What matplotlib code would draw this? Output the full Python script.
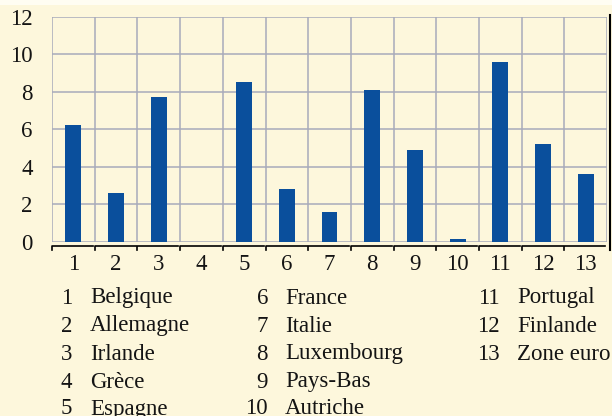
import numpy as np
import matplotlib.pyplot as plt
from matplotlib.lines import Line2D
from matplotlib.patches import Rectangle

plt.rcParams['font.family'] = ['Liberation Serif', 'DejaVu Serif']

codes = list(range(1, 14))
values = [6.2, 2.6, 7.7, 0.0, 8.5, 2.8, 1.6, 8.1, 4.9, 0.15, 9.6, 5.2, 3.6]
pays = ["Belgique", "Allemagne", "Irlande", "Grèce", "Espagne",
        "France", "Italie", "Luxembourg", "Pays-Bas", "Autriche",
        "Portugal", "Finlande", "Zone euro"]
yticks = [0, 2, 4, 6, 8, 10, 12]

BG = '#fdf7dc'
BAR = '#0a4f9c'
GRID = '#a8abbb'
TXT = '#141414'

fig = plt.figure(figsize=(6.12, 4.16), dpi=100, facecolor=BG)
# bande plus claire en haut
fig.patches.append(Rectangle((0, 0.988), 1, 0.012, transform=fig.transFigure,
                             facecolor='#fffdf2', edgecolor='none', zorder=0))

ax = fig.add_axes([0.085, 0.419, 0.907, 0.541])
ax.set_facecolor(BG)
x = np.array(codes)
ax.bar(x, values, width=0.37, color=BAR, zorder=3)

ax.set_xlim(0.5, 13.5)
ax.set_ylim(0, 12)
ax.set_yticks(yticks)
ax.set_yticklabels([str(t) for t in yticks], fontsize=16.5, color=TXT)
ax.set_xticks(x)
ax.set_xticklabels([str(c) for c in codes], fontsize=16.5, color=TXT)
ax.tick_params(axis='both', length=0)
ax.tick_params(axis='y', pad=14)
ax.tick_params(axis='x', pad=9)

# quadrillage : une case par pays
for xe in np.arange(0.5, 14, 1):
    ax.axvline(xe, color=GRID, lw=1.1, zorder=1)
for yv in yticks:
    ax.axhline(yv, color=GRID, lw=1.1, zorder=1)
for s in ax.spines.values():
    s.set_visible(False)

# segments noirs sous l'axe, un par case
trans = ax.get_xaxis_transform()
for c in codes:
    xl, xr = c - 0.5, c + 0.46
    ax.add_line(Line2D([xl, xl, xr], [-0.035, -0.02, -0.02], transform=trans,
                       color='black', lw=1.2, clip_on=False))

# trait vertical au bord droit
fig.add_artist(Line2D([0.997, 0.997], [0.40, 0.965], transform=fig.transFigure,
                      color='black', lw=1.5))

# légende en trois colonnes
num_right = [72, 268, 500]
name_left = [90, 285, 517]
row_y = [298, 326, 354, 382, 409]
for i, (c, nom) in enumerate(zip(codes, pays)):
    col, row = i // 5, i % 5
    yf = 1 - row_y[row] / 416
    fig.text(num_right[col] / 612, yf, str(c), ha='right', va='center',
             fontsize=16.5, color=TXT)
    fig.text(name_left[col] / 612, yf, nom, ha='left', va='center',
             fontsize=16.5, color=TXT)

fig.savefig('out.png', dpi=100, facecolor=BG)
